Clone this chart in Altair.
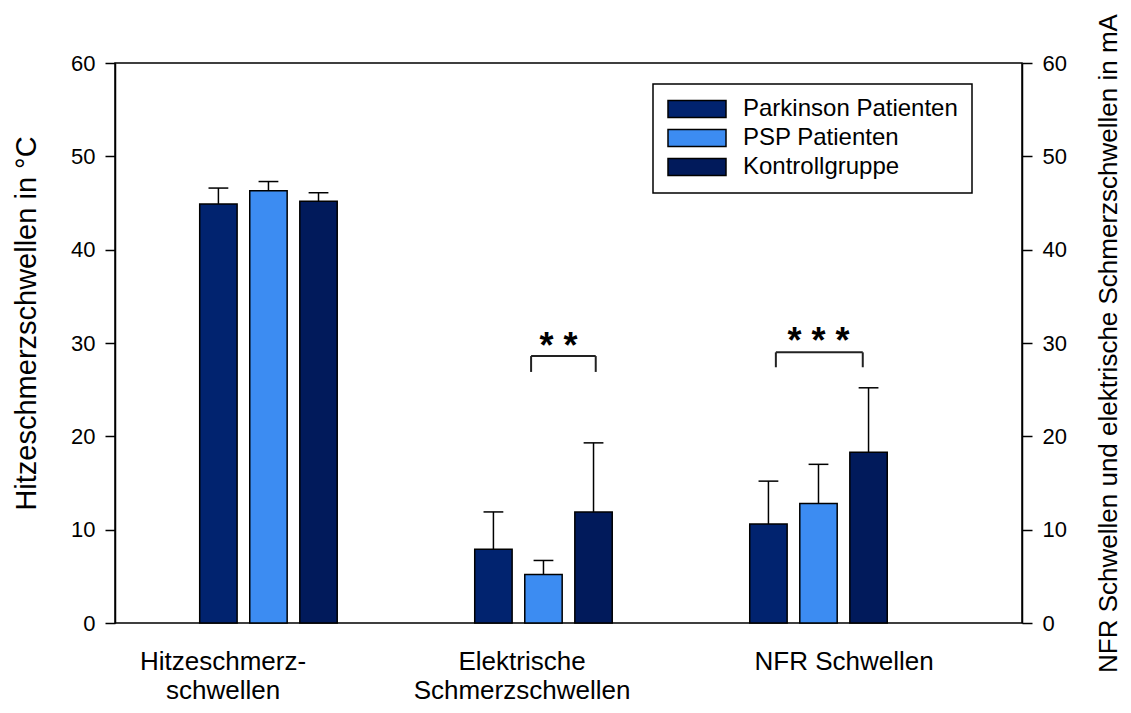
import altair as alt
import pandas as pd

# ---------------- data ----------------
series = ["Parkinson Patienten", "PSP Patienten", "Kontrollgruppe"]
colors = ["#01236f", "#3c8cf2", "#011a5b"]
categories = ["Hitzeschmerz-\nschwellen", "Elektrische\nSchmerzschwellen", "NFR Schwellen"]

pd_mean = [44.9, 7.9, 10.6]
pd_sd = [1.7, 4.0, 4.6]
psp_mean = [46.3, 5.2, 12.8]
psp_sd = [1.0, 1.5, 4.2]
ctrl_mean = [45.2, 11.9, 18.3]
ctrl_sd = [0.9, 7.4, 6.9]

y_ticks = [0, 10, 20, 30, 40, 50, 60]

# significance brackets (category index, label, heights, horizontal extent relative to group)
sig_category = [1, 2]
sig_text = ["* *", "* * *"]
sig_top = [28.6, 29.0]
sig_foot = [26.9, 27.4]
sig_left = [-0.045, -0.155]
sig_right = [0.19, 0.161]
sig_star_x = [0.055, 0.0]
sig_star_y = [30.6, 31.2]

# label centre shift relative to group
label_shift = [-0.165, -0.078, 0.093]

# ---------------- layout constants ----------------
BAR_STEP = 0.182
BAR_HALF = 0.068
CAP_HALF = 0.036
X_DOMAIN = [-0.558, 2.740]

means = [pd_mean, psp_mean, ctrl_mean]
sds = [pd_sd, psp_sd, ctrl_sd]

rows = []
for gi, cat in enumerate(categories):
    for si, s in enumerate(series):
        pos = gi + (si - 1) * BAR_STEP
        m = means[si][gi]
        sd = sds[si][gi]
        rows.append(dict(category=cat, series=s, pos=pos,
                         x1=pos - BAR_HALF, x2=pos + BAR_HALF,
                         capl=pos - CAP_HALF, capr=pos + CAP_HALF,
                         mean=m, upper=m + sd))
df = pd.DataFrame(rows)

seg_rows = []
star_rows = []
for k, gi in enumerate(sig_category):
    l = gi + sig_left[k]
    r = gi + sig_right[k]
    seg_rows.append(dict(x=l, x2=l, y=sig_foot[k], y2=sig_top[k]))
    seg_rows.append(dict(x=l, x2=r, y=sig_top[k], y2=sig_top[k]))
    seg_rows.append(dict(x=r, x2=r, y=sig_foot[k], y2=sig_top[k]))
    star_rows.append(dict(x=gi + sig_star_x[k], y=sig_star_y[k], t=sig_text[k]))
seg_df = pd.DataFrame(seg_rows)
star_df = pd.DataFrame(star_rows)

lab_df = pd.DataFrame(dict(x=[i + label_shift[i] for i in range(len(categories))],
                           label=categories))

x_scale = alt.Scale(domain=X_DOMAIN, nice=False, zero=False)
y_scale = alt.Scale(domain=[0, 60], nice=False)

FONT = "Liberation Sans"

bars = alt.Chart(df).mark_bar(stroke="black", strokeWidth=1.5).encode(
    x=alt.X("x1:Q", scale=x_scale, axis=None),
    x2="x2:Q",
    y=alt.Y("mean:Q", scale=y_scale,
            axis=alt.Axis(orient="left", title="Hitzeschmerzschwellen in °C",
                          values=y_ticks, titleFontSize=29, titlePadding=29,
                          titleY=260)),
    y2=alt.datum(0),
    color=alt.Color("series:N", scale=alt.Scale(domain=series, range=colors),
                    legend=alt.Legend(orient="none", legendX=538, legendY=21, title=None,
                                      symbolType="M-1,-0.293H1V0.293H-1Z", symbolSize=3364,
                                      symbolStrokeColor="black", symbolStrokeWidth=1.5,
                                      symbolOpacity=1, clipHeight=22, rowPadding=5,
                                      padding=14, labelFontSize=24, labelFont=FONT,
                                      labelOffset=16, labelColor="black", labelLimit=400,
                                      strokeColor="black")),
)

err = alt.Chart(df).mark_rule(color="black", strokeWidth=1.5).encode(
    x=alt.X("pos:Q", scale=x_scale, axis=None),
    y=alt.Y("mean:Q", scale=y_scale,
            axis=alt.Axis(orient="right",
                          title="NFR Schwellen und elektrische Schmerzschwellen in mA",
                          values=y_ticks, titleFontSize=26, titleAngle=270,
                          titleBaseline="top", titlePadding=29)),
    y2="upper:Q",
)

caps = alt.Chart(df).mark_rule(color="black", strokeWidth=1.5).encode(
    x=alt.X("capl:Q", scale=x_scale, axis=None),
    x2="capr:Q",
    y=alt.Y("upper:Q", scale=y_scale, axis=None),
)

brackets = alt.Chart(seg_df).mark_rule(color="#222222", strokeWidth=2).encode(
    x=alt.X("x:Q", scale=x_scale, axis=None),
    x2="x2:Q",
    y=alt.Y("y:Q", scale=y_scale, axis=None),
    y2="y2:Q",
)

stars = alt.Chart(star_df).mark_text(fontSize=36, fontWeight="bold", font=FONT,
                                     baseline="middle", dy=10, color="black").encode(
    x=alt.X("x:Q", scale=x_scale, axis=None),
    y=alt.Y("y:Q", scale=y_scale, axis=None),
    text="t:N",
)

labels = alt.Chart(lab_df).mark_text(fontSize=26, font=FONT, lineBreak="\n",
                                     baseline="alphabetic", lineHeight=29.5,
                                     align="center", color="black").encode(
    x=alt.X("x:Q", scale=x_scale, axis=None),
    y=alt.value(606.5),
    text="label:N",
)

chart = alt.layer(bars, err, caps, brackets, stars, labels).resolve_axis(
    y="independent"
).resolve_scale(
    y="shared"
).properties(
    width=907, height=560,
    padding={"left": 107, "top": 55, "right": 101, "bottom": 82},
    autosize=alt.AutoSizeParams(type="none"),
).configure_view(
    stroke="black", strokeWidth=1.5
).configure_axis(
    domainColor="black", domainWidth=1.5, tickColor="black", tickWidth=1.5,
    tickSize=10, labelFont=FONT, labelFontSize=22, labelColor="black",
    labelPadding=10, titleFont=FONT, titleFontWeight="normal", titleColor="black",
    grid=False
).configure_legend(
    strokeWidth=1.5
)

chart.save("out.html", embed_options={"renderer": "svg", "actions": False})
